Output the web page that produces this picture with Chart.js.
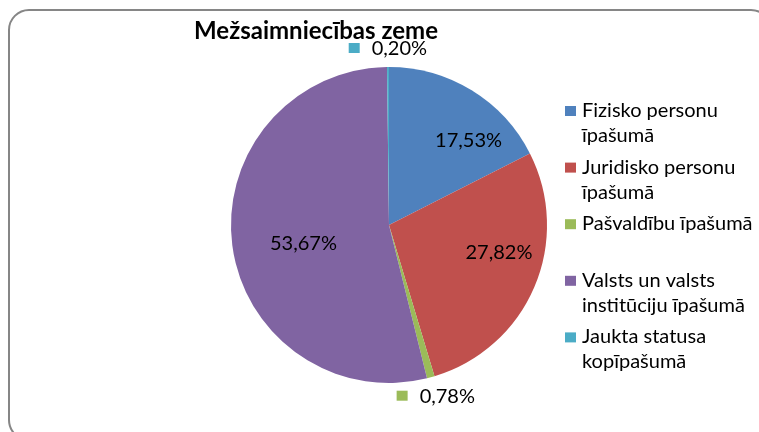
<!DOCTYPE html>
<html>
<head>
<meta charset="utf-8">
<script src="https://cdn.jsdelivr.net/npm/chart.js@4/dist/chart.umd.min.js"></script>
<style>
html,body{margin:0;padding:0;background:#fff;}
#wrap{width:759px;height:432px;position:relative;}
</style>
</head>
<body>
<div id="wrap"><canvas id="c" width="759" height="432"></canvas></div>
<script>
const title = "Mežsaimniecības zeme";
const categories = [
  "Fizisko personu īpašumā",
  "Juridisko personu īpašumā",
  "Pašvaldību īpašumā",
  "Valsts un valsts institūciju īpašumā",
  "Jaukta statusa kopīpašumā"
];
const shares = [17.53, 27.82, 0.78, 53.67, 0.20];
const valueLabels = ["17,53%", "27,82%", "0,78%", "53,67%", "0,20%"];
const colors = ["#4F81BD", "#C0504D", "#9BBB59", "#8064A2", "#4BACC6"];

const FONT = "Lato, 'Liberation Sans', Arial, sans-serif";

const framePlugin = {
  id: 'frame',
  beforeDraw(chart) {
    const ctx = chart.ctx;
    ctx.save();
    ctx.fillStyle = '#fff';
    ctx.fillRect(0, 0, chart.width, chart.height);
    ctx.strokeStyle = '#868686';
    ctx.lineWidth = 2;
    ctx.beginPath();
    ctx.roundRect(9, 10, 762, 430, 20);
    ctx.stroke();
    ctx.fillStyle = '#000';
    ctx.font = "bold 24px " + FONT;
    ctx.textBaseline = 'alphabetic';
    ctx.textAlign = 'center';
    ctx.fillText(title, 316, 39);
    ctx.restore();
  }
};

function wrapText(ctx, text, maxW) {
  const words = text.split(' ');
  const lines = [];
  let cur = '';
  for (const w of words) {
    const t = cur ? cur + ' ' + w : w;
    if (ctx.measureText(t).width > maxW && cur) { lines.push(cur); cur = w; }
    else cur = t;
  }
  if (cur) lines.push(cur);
  return lines;
}

const legendPlugin = {
  id: 'sideLegend',
  afterDraw(chart, args, opts) {
    const ctx = chart.ctx;
    ctx.save();
    ctx.font = "20px " + FONT;
    ctx.textBaseline = 'alphabetic';
    ctx.textAlign = 'left';
    const labels = chart.data.labels;
    const bg = chart.data.datasets[0].backgroundColor;
    labels.forEach((lab, i) => {
      const base = opts.y0 + i * opts.step;
      ctx.fillStyle = bg[i];
      ctx.fillRect(opts.x, base - 11, 11, 10);
      ctx.fillStyle = '#000';
      const lines = wrapText(ctx, lab, opts.maxW);
      lines.forEach((ln, k) => ctx.fillText(ln, opts.x + 17, base + k * opts.lineH));
    });
    ctx.restore();
  }
};

const labelPlugin = {
  id: 'sliceLabels',
  afterDatasetsDraw(chart, args, opts) {
    const ctx = chart.ctx;
    const meta = chart.getDatasetMeta(0);
    const ds = chart.data.datasets[0];
    ctx.save();
    ctx.font = "20px " + FONT;
    ctx.textBaseline = 'middle';
    meta.data.forEach((arc, i) => {
      const p = arc.getProps(['x','y','startAngle','endAngle','outerRadius'], true);
      const mid = (p.startAngle + p.endAngle) / 2;
      const txt = valueLabels[i];
      const small = shares[i] < 2;
      if (!small) {
        const n = opts.nudge[i] || [0, 0.7];
        const a = mid + n[0] * Math.PI / 180;
        const r = p.outerRadius * n[1];
        ctx.fillStyle = '#000';
        ctx.textAlign = 'center';
        ctx.fillText(txt, p.x + Math.cos(a) * r, p.y + Math.sin(a) * r);
      } else {
        const r = p.outerRadius + 19;
        const cx = p.x + Math.cos(mid) * r;
        const cy = p.y + Math.sin(mid) * r;
        const tw = ctx.measureText(txt).width;
        const gw = 11 + 12 + tw;
        const x0 = cx - gw / 2;
        ctx.fillStyle = ds.backgroundColor[i];
        ctx.fillRect(x0, cy - 5, 11, 10);
        ctx.fillStyle = '#000';
        ctx.textAlign = 'left';
        ctx.fillText(txt, x0 + 23, cy + 1);
      }
    });
    ctx.restore();
  }
};

new Chart(document.getElementById('c'), {
  type: 'pie',
  data: {
    labels: categories,
    datasets: [{
      data: shares,
      backgroundColor: colors,
      borderWidth: 0
    }]
  },
  options: {
    responsive: false,
    animation: false,
    layout: { padding: { top: 67, bottom: 49, left: 231, right: 212 } },
    plugins: {
      legend: { display: false },
      tooltip: { enabled: false },
      title: { display: false },
      sideLegend: { x: 565, y0: 117, step: 56.6, lineH: 25, maxW: 178 },
      sliceLabels: { nudge: [[11.9, 0.732], [-8.9, 0.718], [0, 0.7], [-4.9, 0.554], [0, 0.7]] }
    }
  },
  plugins: [framePlugin, legendPlugin, labelPlugin]
});
</script>
</body>
</html>
